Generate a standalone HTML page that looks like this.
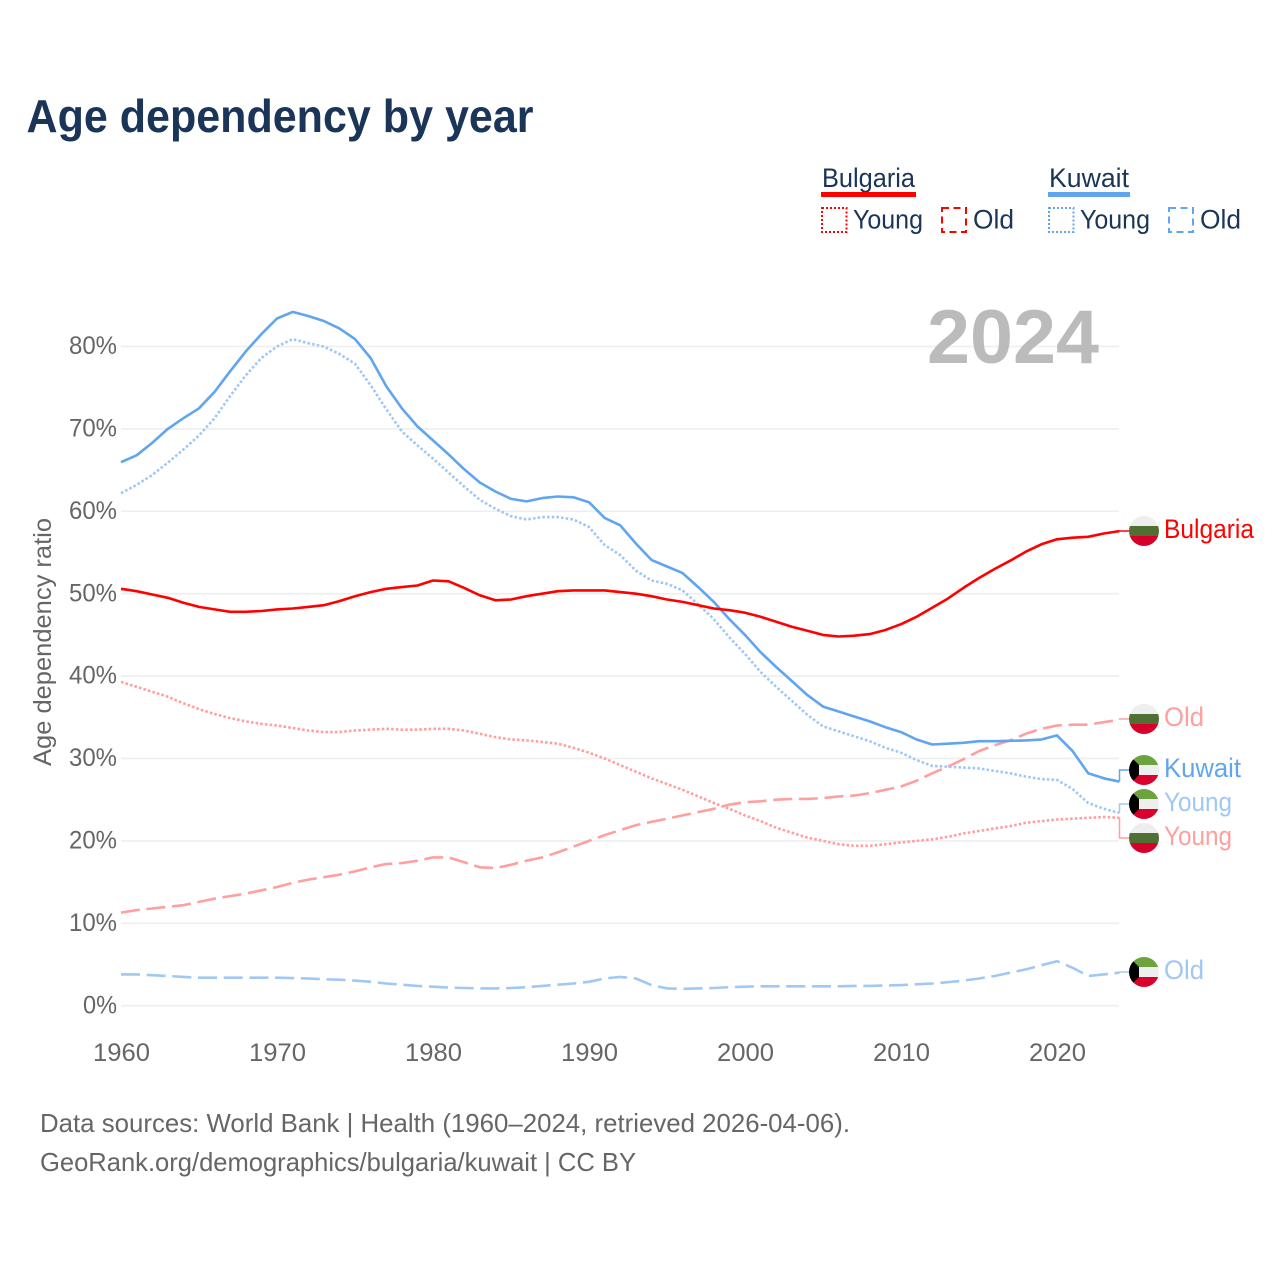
<!DOCTYPE html>
<html lang="en">
<head>
<meta charset="utf-8">
<title>Age dependency by year</title>
<style>
html,body{margin:0;padding:0;background:#fff;}
svg{display:block;}
text{font-family:"Liberation Sans",sans-serif;}
</style>
</head>
<body>
<svg id="chart" xmlns="http://www.w3.org/2000/svg" width="1280" height="1280" viewBox="0 0 1280 1280">
  <defs>
    <clipPath id="flag-clip"><circle cx="0" cy="0" r="15"/></clipPath>
    <g id="flag-bg">
      <g clip-path="url(#flag-clip)">
        <rect x="-15" y="-15" width="30" height="10" fill="#eeeeee"/>
        <rect x="-15" y="-5" width="30" height="10.5" fill="#4f6f33"/>
        <rect x="-15" y="5" width="30" height="10" fill="#d6002a"/>
      </g>
    </g>
    <g id="flag-kw">
      <g clip-path="url(#flag-clip)">
        <rect x="-15" y="-15" width="30" height="10" fill="#6ca33f"/>
        <rect x="-15" y="-5" width="30" height="10.5" fill="#eeeeee"/>
        <rect x="-15" y="5" width="30" height="10" fill="#d9002b"/>
        <polygon points="-15,-15 -5,-5 -5,5 -15,15" fill="#000"/>
      </g>
    </g>
  </defs>

  <text x="26.5" y="132" font-size="46" font-weight="700" fill="#1a3557" textLength="507" lengthAdjust="spacingAndGlyphs">Age dependency by year</text>

  <g>
    <g>
      <text x="822" y="187" font-size="27" fill="#1a3557" textLength="93" lengthAdjust="spacingAndGlyphs">Bulgaria</text>
      <rect x="821" y="192" width="95" height="5" fill="#ff0000"/>
      <rect x="822" y="208" width="24.5" height="24" fill="none" stroke="#ff0000" stroke-width="2" stroke-dasharray="2 2"/>
      <text x="853" y="228.5" font-size="27" fill="#1a3557" textLength="70" lengthAdjust="spacingAndGlyphs">Young</text>
      <rect x="942" y="208" width="24" height="24" fill="none" stroke="#ff0000" stroke-width="2" stroke-dasharray="7 4.5"/>
      <text x="973" y="228.5" font-size="27" fill="#1a3557" textLength="41" lengthAdjust="spacingAndGlyphs">Old</text>
    </g>
    <g>
      <text x="1049" y="187" font-size="27" fill="#1a3557" textLength="80" lengthAdjust="spacingAndGlyphs">Kuwait</text>
      <rect x="1048" y="192" width="82" height="5" fill="#60a5ee"/>
      <rect x="1049" y="208" width="24.5" height="24" fill="none" stroke="#60a5ee" stroke-width="2" stroke-dasharray="2 2"/>
      <text x="1080" y="228.5" font-size="27" fill="#1a3557" textLength="70" lengthAdjust="spacingAndGlyphs">Young</text>
      <rect x="1169" y="208" width="24" height="24" fill="none" stroke="#60a5ee" stroke-width="2" stroke-dasharray="7 4.5"/>
      <text x="1200" y="228.5" font-size="27" fill="#1a3557" textLength="41" lengthAdjust="spacingAndGlyphs">Old</text>
    </g>
  </g>

  <g id="grid"></g>
  <text x="927" y="363" font-size="76" font-weight="700" fill="#bbbbbb" textLength="172" lengthAdjust="spacingAndGlyphs">2024</text>
  <g id="y-ticks"></g>
  <g id="x-ticks"></g>
  <text transform="translate(51,642) rotate(-90)" text-anchor="middle" font-size="25" fill="#666666" textLength="248" lengthAdjust="spacingAndGlyphs">Age dependency ratio</text>

  <g id="series"></g>
  <g id="end-labels"></g>

  <text x="40" y="1132" font-size="26" fill="#666666" textLength="810" lengthAdjust="spacingAndGlyphs">Data sources: World Bank | Health (1960–2024, retrieved 2026-04-06).</text>
  <text x="40" y="1171" font-size="26" fill="#666666" textLength="596" lengthAdjust="spacingAndGlyphs">GeoRank.org/demographics/bulgaria/kuwait | CC BY</text>
</svg>

<script>
const startYear = 1960;
const yTickValues = [0, 10, 20, 30, 40, 50, 60, 70, 80];
const yTickLabels = ["0%", "10%", "20%", "30%", "40%", "50%", "60%", "70%", "80%"];
const xTickValues = [1960, 1970, 1980, 1990, 2000, 2010, 2020];
const xTickLabels = ["1960", "1970", "1980", "1990", "2000", "2010", "2020"];

const kuwaitTotal = [
  65.96,66.8,68.3,70.0,71.3,72.5,74.5,77,79.4,81.5,
  83.4,84.2,83.7,83.1,82.2,80.9,78.6,75.2,72.5,70.3,
  68.6,66.9,65.1,63.5,62.4,61.5,61.2,61.6,61.8,61.7,
  61.1,59.2,58.3,56.1,54.1,53.3,52.5,50.8,49,46.9,
  45,42.9,41.1,39.4,37.7,36.3,35.7,35.1,34.5,33.8,
  33.2,32.3,31.7,31.8,31.9,32.1,32.1,32.15,32.2,32.3,
  32.8,30.9,28.2,27.6,27.2];
const kuwaitYoung = [
  62.2,63.2,64.4,65.9,67.5,69.2,71.3,74,76.5,78.6,
  80,80.9,80.4,80,79.1,77.9,75.3,72.4,69.7,68,
  66.4,64.7,63,61.4,60.3,59.4,59,59.3,59.3,59,
  58.1,55.9,54.7,52.8,51.6,51.2,50.4,48.7,46.9,44.7,
  42.7,40.5,38.7,37,35.3,33.9,33.3,32.7,32.1,31.3,
  30.7,29.8,29.1,29,28.9,28.8,28.5,28.2,27.8,27.5,
  27.4,26.3,24.6,23.9,23.4];
const kuwaitOld = [
  3.8,3.8,3.7,3.6,3.5,3.4,3.4,3.4,3.4,3.4,
  3.4,3.35,3.3,3.2,3.15,3.05,2.9,2.7,2.55,2.4,
  2.3,2.2,2.15,2.1,2.1,2.15,2.25,2.4,2.55,2.7,
  2.9,3.3,3.5,3.3,2.5,2.1,2.05,2.1,2.15,2.25,
  2.3,2.35,2.35,2.35,2.35,2.35,2.35,2.4,2.4,2.45,
  2.5,2.6,2.7,2.85,3.05,3.3,3.6,4.0,4.4,4.9,
  5.4,4.6,3.6,3.8,4.0];
const bulgariaTotal = [
  50.6,50.3,49.9,49.5,48.9,48.4,48.1,47.8,47.8,47.9,
  48.1,48.2,48.4,48.6,49.1,49.7,50.2,50.6,50.8,51.0,
  51.6,51.5,50.7,49.8,49.2,49.3,49.7,50.0,50.3,50.4,
  50.4,50.4,50.2,50.0,49.7,49.3,49.0,48.6,48.2,48.0,
  47.7,47.2,46.6,46.0,45.5,45.0,44.8,44.9,45.1,45.6,
  46.3,47.2,48.3,49.4,50.7,51.9,53.0,54.0,55.1,56.0,
  56.6,56.8,56.9,57.3,57.6];
const bulgariaYoung = [
  39.3,38.7,38.1,37.5,36.7,36.0,35.4,34.9,34.5,34.2,
  34.0,33.7,33.4,33.2,33.2,33.4,33.5,33.6,33.5,33.5,
  33.6,33.6,33.4,33.0,32.6,32.3,32.2,32.0,31.8,31.3,
  30.7,30.0,29.2,28.4,27.6,26.9,26.2,25.4,24.6,23.9,
  23.1,22.4,21.6,21.0,20.4,20.0,19.6,19.4,19.4,19.6,
  19.8,20.0,20.2,20.5,20.9,21.2,21.5,21.8,22.2,22.4,
  22.6,22.7,22.8,22.9,22.8];
const bulgariaOld = [
  11.3,11.6,11.8,12.0,12.2,12.6,13.0,13.3,13.6,14.0,
  14.4,14.9,15.3,15.6,15.9,16.3,16.8,17.2,17.3,17.6,
  18.0,18.0,17.4,16.8,16.7,17.1,17.6,18.0,18.6,19.3,
  20.0,20.7,21.3,21.9,22.3,22.7,23.1,23.5,23.9,24.4,
  24.7,24.8,25.0,25.1,25.1,25.2,25.4,25.5,25.8,26.2,
  26.6,27.3,28.2,29.0,29.9,30.9,31.6,32.2,33.0,33.6,
  34.0,34.1,34.1,34.4,34.7];

const NS = "http://www.w3.org/2000/svg";
function xScale(year) { return 121 + (year - 1960) * 15.6; }
function yScale(v) { return 1005.7 - v * 8.24; }
function make(tag, attrs, parent) {
  const el = document.createElementNS(NS, tag);
  for (const k in attrs) el.setAttribute(k, attrs[k]);
  parent.appendChild(el);
  return el;
}
function linePath(values) {
  return values.map((v, i) => (i ? "L" : "M") + xScale(startYear + i).toFixed(1) + "," + yScale(v).toFixed(1)).join("");
}

const gridG = document.getElementById("grid");
const yTickG = document.getElementById("y-ticks");
const xTickG = document.getElementById("x-ticks");
yTickValues.forEach((v, i) => {
  const ln = make("line", {x1: 121, x2: 1119, y1: yScale(v), y2: yScale(v), stroke: "#eeeeee", "stroke-width": 1.6}, gridG);
  
  
  const t = make("text", {x: 117, y: yScale(v) + 7.6, "text-anchor": "end", "font-size": 25, fill: "#666666",
    textLength: v === 0 ? 34 : 48, lengthAdjust: "spacingAndGlyphs"}, yTickG);
  
  
  t.textContent = yTickLabels[i];
});
xTickValues.forEach((yr, i) => {
  const t = make("text", {x: xScale(yr) + 0.5, y: 1061, "text-anchor": "middle", "font-size": 25, fill: "#666666",
    textLength: 57, lengthAdjust: "spacingAndGlyphs"}, xTickG);
  
  
  t.textContent = xTickLabels[i];
});

const RED = "#ff0000", BLUE = "#60a5ee", LRED = "#ff9f9f", LBLUE = "#a0c8f5";
const DOT = "2.6 2.1", DASH = "19 6.7";
const seriesG = document.getElementById("series");
const labelG = document.getElementById("end-labels");

function drawSeries(values, color, dash, name) {
  const p = make("path", {d: linePath(values), fill: "none", stroke: color, "stroke-width": 2.6, "stroke-linejoin": "round"}, seriesG);
  if (dash) p.setAttribute("stroke-dasharray", dash);
  
  
}
drawSeries(kuwaitOld, LBLUE, DASH, 'line-kuwait-old');
drawSeries(bulgariaOld, LRED, DASH, 'line-bulgaria-old');
drawSeries(bulgariaYoung, LRED, DOT, 'line-bulgaria-young');
drawSeries(kuwaitYoung, LBLUE, DOT, 'line-kuwait-young');
drawSeries(kuwaitTotal, BLUE, null, 'line-kuwait-total');
drawSeries(bulgariaTotal, RED, null, 'line-bulgaria-total');

function drawEnd(values, labelY, color, flag, text, width, name) {
  const y0 = yScale(values[values.length - 1]);
  const c = make("path", {d: "M1119.5," + y0.toFixed(1) + "V" + labelY + "H1130", fill: "none", stroke: color, "stroke-width": 1.5}, labelG);
  
  
  const f = make("use", {href: flag, transform: "translate(1144," + labelY + ")"}, labelG);
  
  
  const t = make("text", {x: 1164, y: labelY + 7, "font-size": 26.5, fill: color, textLength: width, lengthAdjust: "spacingAndGlyphs"}, labelG);
  
  
  t.textContent = text;
}
drawEnd(bulgariaTotal, 531, RED, "#flag-bg", "Bulgaria", 90, 'end-bulgaria');
drawEnd(bulgariaOld, 719, LRED, "#flag-bg", "Old", 40, 'end-bulgaria-old');
drawEnd(bulgariaYoung, 838, LRED, "#flag-bg", "Young", 68, 'end-bulgaria-young');
drawEnd(kuwaitTotal, 770, BLUE, "#flag-kw", "Kuwait", 77, 'end-kuwait');
drawEnd(kuwaitYoung, 804, LBLUE, "#flag-kw", "Young", 68, 'end-kuwait-young');
drawEnd(kuwaitOld, 972, LBLUE, "#flag-kw", "Old", 40, 'end-kuwait-old');
</script>
</body>
</html>
